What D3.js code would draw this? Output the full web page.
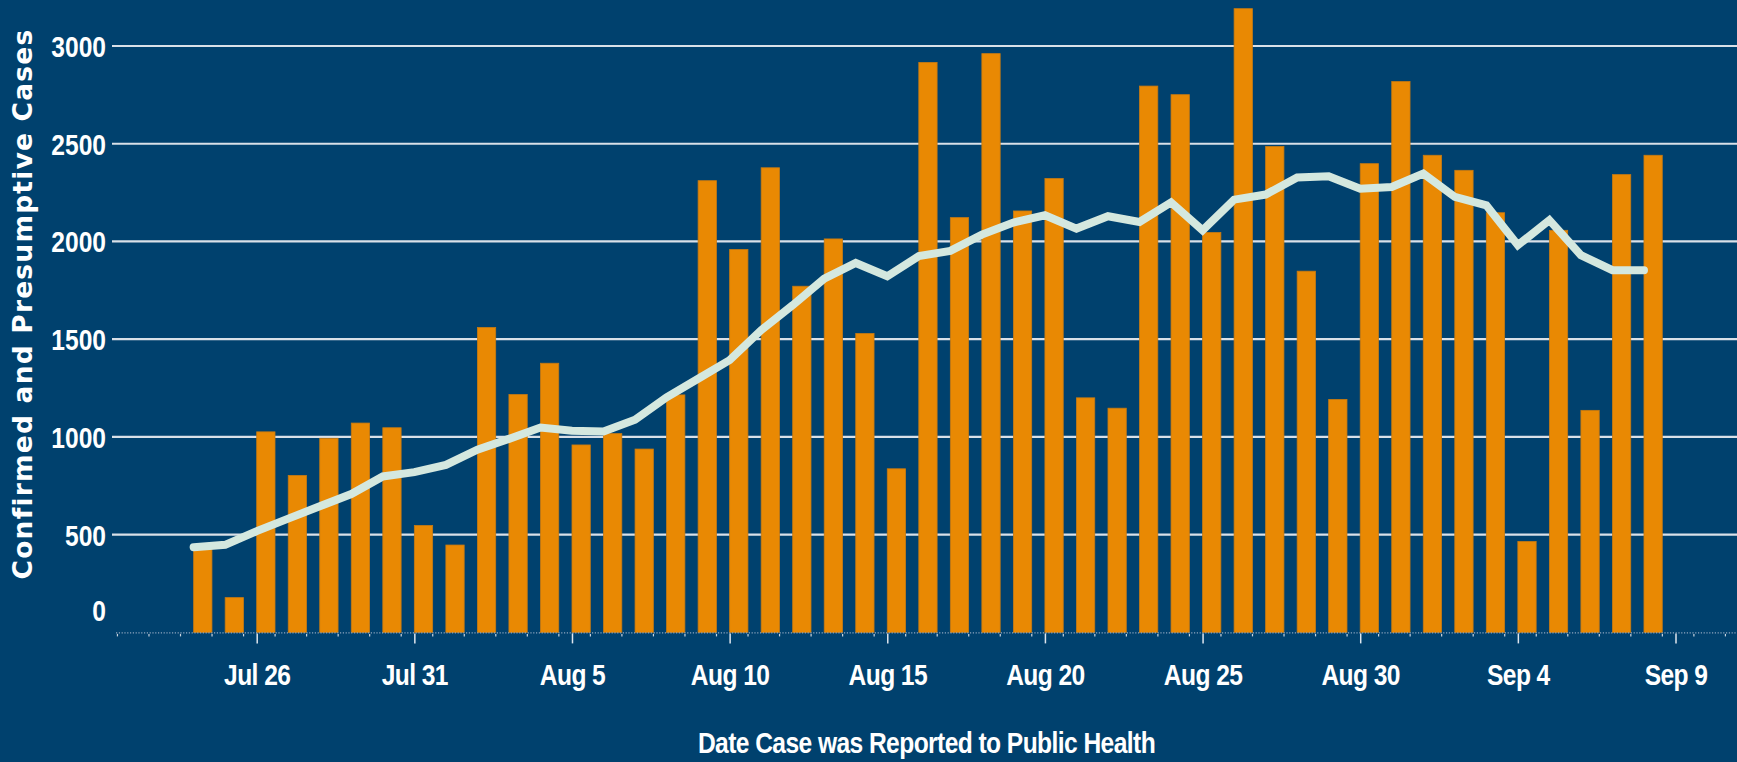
<!DOCTYPE html>
<html>
<head>
<meta charset="utf-8">
<script src="https://cdnjs.cloudflare.com/ajax/libs/d3/7.8.5/d3.min.js"></script>
<style>
  html, body { margin: 0; padding: 0; background: #00416e; }
  svg { display: block; }
  .tickText { font-family: "Liberation Sans", Arial, sans-serif; font-weight: bold; fill: #ffffff; }
  .axisTitle { font-family: "DejaVu Sans", sans-serif; font-weight: bold; fill: #ffffff; }
</style>
</head>
<body>
<div id="chart"></div>
<script>
// Data
var dates = [
  "2020-07-24", "2020-07-25", "2020-07-26", "2020-07-27", "2020-07-28", "2020-07-29", "2020-07-30",
  "2020-07-31", "2020-08-01", "2020-08-02", "2020-08-03", "2020-08-04", "2020-08-05", "2020-08-06",
  "2020-08-07", "2020-08-08", "2020-08-09", "2020-08-10", "2020-08-11", "2020-08-12", "2020-08-13",
  "2020-08-14", "2020-08-15", "2020-08-16", "2020-08-17", "2020-08-18", "2020-08-19", "2020-08-20",
  "2020-08-21", "2020-08-22", "2020-08-23", "2020-08-24", "2020-08-25", "2020-08-26", "2020-08-27",
  "2020-08-28", "2020-08-29", "2020-08-30", "2020-08-31", "2020-09-01", "2020-09-02", "2020-09-03",
  "2020-09-04", "2020-09-05", "2020-09-06", "2020-09-07", "2020-09-08"
];

var cases = [
  427, 178, 1026, 803, 993, 1071, 1047,
  547, 447, 1560, 1217, 1377, 959, 1017,
  938, 1215, 2311, 1959, 2377, 1771, 2013,
  1529, 837, 2916, 2122, 2961, 2156, 2322,
  1200, 1147, 2795, 2751, 2046, 3191, 2486,
  1848, 1192, 2398, 2818, 2441, 2364, 2147,
  465, 2057, 1136, 2342, 2441
];

var average = [
  436, 448, 518, 582, 645, 708, 798,
  820, 857, 935, 990, 1048, 1032, 1028,
  1088, 1203, 1298, 1393, 1546, 1674, 1810,
  1890, 1822, 1925, 1952, 2035, 2097, 2134,
  2066, 2129, 2100, 2200, 2057, 2214, 2240,
  2327, 2334, 2270, 2279, 2347, 2228, 2185,
  1981, 2109, 1930, 1853, 1853
];

var yTicks = [0, 500, 1000, 1500, 2000, 2500, 3000];
var xTickDates = ["2020-07-26", "2020-07-31", "2020-08-05", "2020-08-10", "2020-08-15",
  "2020-08-20", "2020-08-25", "2020-08-30", "2020-09-04", "2020-09-09"];

// Set up chart
var svgWidth = 1737;
var svgHeight = 762;

var plot = { left: 112, right: 1737, axisStart: 116, zeroY: 632.4, topY: 46 };

// no narrow font installed, so squeeze the bold sans horizontally
var narrow = "scale(0.82, 1)";

var parseDate = d3.utcParse("%Y-%m-%d");

var data = dates.map(function(d, i) {
  return { date: parseDate(d), cases: cases[i], avg: average[i] };
});

var svg = d3.select("#chart")
  .append("svg")
  .attr("width", svgWidth)
  .attr("height", svgHeight);

svg.append("rect")
  .attr("width", svgWidth)
  .attr("height", svgHeight)
  .attr("fill", "#00416e");

// Scales
var xScale = d3.scaleUtc()
  .domain([parseDate("2020-07-26"), parseDate("2020-09-09")])
  .range([256.7, 1675.5]);

var yScale = d3.scaleLinear()
  .domain([0, 3000])
  .range([plot.zeroY, plot.topY]);

var barWidth = 18.3;

// Gridlines
svg.append("g")
  .selectAll("line")
  .data(yTicks.filter(function(v) { return v > 0; }))
  .enter()
  .append("line")
  .attr("x1", plot.left)
  .attr("x2", plot.right)
  .attr("y1", function(d) { return yScale(d); })
  .attr("y2", function(d) { return yScale(d); })
  .attr("stroke", "#d9e0e8")
  .attr("stroke-width", 2.2);

// Y axis labels
var leftAxis = d3.axisLeft(yScale)
  .tickValues(yTicks)
  .tickSize(0)
  .tickPadding(0)
  .tickFormat(d3.format("d"));

var yAxisG = svg.append("g")
  .attr("transform", "translate(106, 0)")
  .call(leftAxis);

yAxisG.select(".domain").remove();
yAxisG.selectAll("text")
  .attr("class", "tickText")
  .attr("font-size", "30px")
  .attr("dy", "0.35em")
  .attr("transform", narrow)
  .attr("fill", "#ffffff");
// the zero label sits a bit above the baseline
yAxisG.selectAll(".tick")
  .filter(function(d) { return d === 0; })
  .select("text")
  .attr("y", -22);

// Bars
svg.append("g")
  .selectAll("rect")
  .data(data)
  .enter()
  .append("rect")
  .attr("x", function(d) { return xScale(d.date); })
  .attr("y", function(d) { return yScale(d.cases); })
  .attr("width", barWidth)
  .attr("height", function(d) { return plot.zeroY - yScale(d.cases); })
  .attr("fill", "#e98903")
  .attr("stroke", "#c77a12")
  .attr("stroke-width", 0.8);

// X axis: dotted baseline, minor and major ticks
svg.append("line")
  .attr("x1", plot.axisStart)
  .attr("x2", plot.right)
  .attr("y1", plot.zeroY + 0.5)
  .attr("y2", plot.zeroY + 0.5)
  .attr("stroke", "#8ea6bf")
  .attr("stroke-width", 1.2)
  .attr("stroke-dasharray", "1.2,1.6");

var minorTicks = d3.utcDay.range(parseDate("2020-07-20"), parseDate("2020-09-13"))
  .map(function(d) { return d3.utcHour.offset(d, 14); })
  .filter(function(d) { return xScale(d) >= plot.axisStart && xScale(d) <= plot.right; });

svg.append("g")
  .selectAll("line")
  .data(minorTicks)
  .enter()
  .append("line")
  .attr("x1", function(d) { return xScale(d); })
  .attr("x2", function(d) { return xScale(d); })
  .attr("y1", plot.zeroY + 1.5)
  .attr("y2", plot.zeroY + 4)
  .attr("stroke", "#c9d4df")
  .attr("stroke-width", 1.2);

var bottomAxis = d3.axisBottom(xScale)
  .tickValues(xTickDates.map(parseDate))
  .tickSize(10)
  .tickPadding(20)
  .tickFormat(d3.utcFormat("%b %-d"));

var xAxisG = svg.append("g")
  .attr("transform", "translate(0, " + (plot.zeroY + 1) + ")")
  .call(bottomAxis);

xAxisG.select(".domain").remove();
xAxisG.selectAll(".tick line")
  .attr("stroke", "#dfe6ee")
  .attr("stroke-width", 1.5);
xAxisG.selectAll("text")
  .attr("class", "tickText")
  .attr("font-size", "30px")
  .attr("letter-spacing", "-0.7px")
  .attr("transform", narrow)
  .attr("fill", "#ffffff");

// 7 day average line
var line = d3.line()
  .x(function(d) { return xScale(d.date); })
  .y(function(d) { return yScale(d.avg); });

svg.append("path")
  .datum(data)
  .attr("d", line)
  .attr("fill", "none")
  .attr("stroke", "#d4e8df")
  .attr("stroke-width", 8)
  .attr("stroke-linecap", "round")
  .attr("stroke-linejoin", "miter");

// Axis titles
svg.append("text")
  .attr("class", "axisTitle")
  .attr("transform", "translate(31.5, 304) rotate(-90)")
  .attr("text-anchor", "middle")
  .attr("font-size", "26.5px")
  .attr("letter-spacing", "1.2px")
  .text("Confirmed and Presumptive Cases");

svg.append("text")
  .attr("class", "tickText")
  .attr("transform", "translate(926.5, 753) " + narrow)
  .attr("text-anchor", "middle")
  .attr("font-size", "30px")
  .attr("letter-spacing", "-0.7px")
  .text("Date Case was Reported to Public Health");
</script>
</body>
</html>
